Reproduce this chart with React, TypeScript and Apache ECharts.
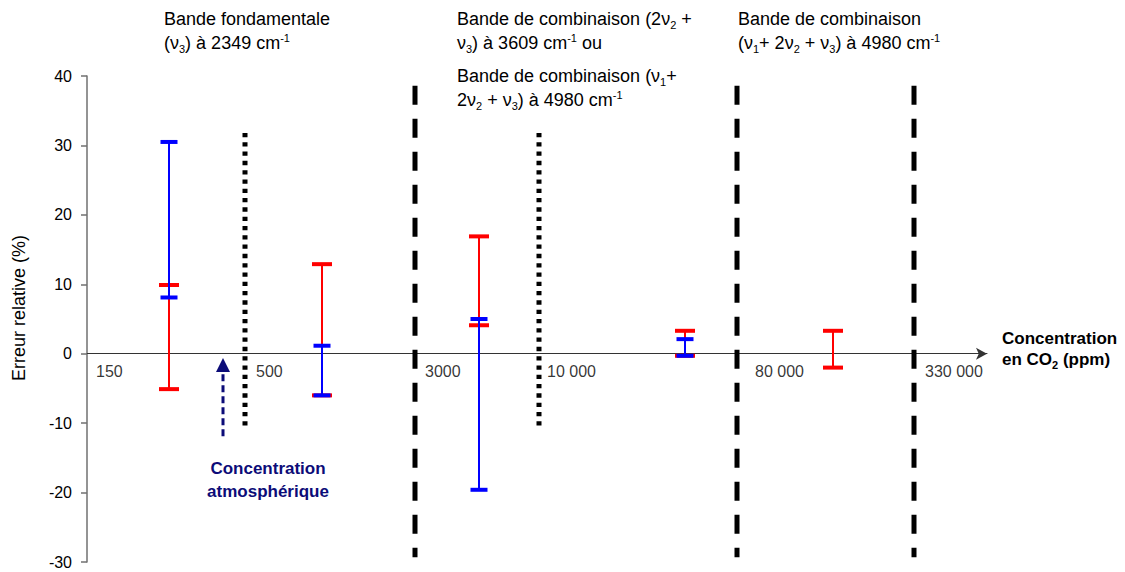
import React, { useEffect, useRef } from "react";
import * as echarts from "echarts";

const F = "'Liberation Sans', Arial, Helvetica, sans-serif";

// Concentration groups (x positions in arbitrary layout units along the axis)
const groupX = [8.2, 23.5, 39.2, 59.8, 74.6];
// Red error ranges (%)
const redLow = [-5.1, -6.0, 4.1, -0.3, -2.0];
const redHigh = [9.9, 12.9, 16.9, 3.3, 3.3];
// Blue error ranges (%) (no blue range for last group)
const blueLow = [8.1, -6.0, -19.6, -0.3];
const blueHigh = [30.5, 1.15, 5.0, 2.1];

// Separators
const dashedX = [32.8, 65.0, 82.7];
const dashedRange = [38.6, -29.3];
const dottedX = [15.8, 45.2];
const dottedRange = [31.8, -11.0];

// Atmospheric concentration arrow
const arrowX = 13.6;
const arrowRange = [-11.9, -0.6];

// Concentration labels along the axis
const concLabels = ["150", "500", "3000", "10 000", "80 000", "330 000"];
const concLabelX = [0.9, 16.9, 33.8, 46.0, 66.8, 83.8];
const concLabelY = -2.5;

// Y axis
const yMin = -30;
const yMax = 40;
const yStep = 10;

const rich: any = {
  n: { fontSize: 18, lineHeight: 22, fontFamily: F, fill: "#000", color: "#000" },
  s: { fontSize: 11, lineHeight: 11, fontFamily: F, fill: "#000", color: "#000", verticalAlign: "bottom" },
  p: { fontSize: 11, lineHeight: 11, fontFamily: F, fill: "#000", color: "#000", verticalAlign: "top" },
  b: { fontSize: 17, lineHeight: 22, fontFamily: F, fontWeight: "bold", fill: "#000", color: "#000" },
  bs: { fontSize: 11, lineHeight: 11, fontFamily: F, fontWeight: "bold", fill: "#000", color: "#000", verticalAlign: "bottom" },
};

function txt(x: number, y: number, text: string) {
  return {
    type: "text",
    x,
    y,
    silent: true,
    style: { text, rich, align: "left", verticalAlign: "middle", textAlign: "left", textVerticalAlign: "middle" },
  };
}

function errorBar(color: string, capW: number) {
  return (params: any, api: any) => {
    const x = api.value(0);
    const lo = api.value(1);
    const hi = api.value(2);
    const pt = api.coord([x, hi]);
    const pb = api.coord([x, lo]);
    return {
      type: "group",
      children: [
        { type: "line", shape: { x1: pt[0], y1: pt[1], x2: pb[0], y2: pb[1] }, style: { stroke: color, lineWidth: 2 } },
        { type: "rect", shape: { x: pt[0] - capW / 2, y: pt[1] - 2, width: capW, height: 4 }, style: { fill: color } },
        { type: "rect", shape: { x: pb[0] - capW / 2, y: pb[1] - 2, width: capW, height: 4 }, style: { fill: color } },
      ],
    };
  };
}

function vline(width: number, dash: number[]) {
  return (params: any, api: any) => {
    const x = api.value(0);
    const p1 = api.coord([x, api.value(1)]);
    const p2 = api.coord([x, api.value(2)]);
    return {
      type: "line",
      shape: { x1: p1[0], y1: p1[1], x2: p2[0], y2: p2[1] },
      style: { stroke: "#000", lineWidth: width, lineDash: dash, lineCap: "butt" },
    };
  };
}

export default function App() {
  const ref = useRef<HTMLDivElement>(null);
  useEffect(() => {
    if (!ref.current) return;
    const chart = echarts.init(ref.current, undefined, { renderer: "svg" });
    const option: any = {
      animation: false,
      backgroundColor: "#fff",
      grid: { left: 87, right: 138, top: 76, bottom: 10 },
      xAxis: {
        type: "value",
        min: 0,
        max: 90,
        axisLine: {
          show: true,
          onZero: true,
          symbol: ["none", "arrow"],
          symbolSize: [9, 11],
          lineStyle: { color: "#333", width: 1 },
        },
        axisTick: { show: false },
        axisLabel: { show: false },
        splitLine: { show: false },
      },
      yAxis: {
        type: "value",
        min: yMin,
        max: yMax,
        interval: yStep,
        axisLine: { show: true, onZero: false, lineStyle: { color: "#707070", width: 1.5 } },
        axisTick: { show: true, length: 6, lineStyle: { color: "#707070", width: 1.5 } },
        axisLabel: { fontSize: 16, color: "#000", fontFamily: F, margin: 15 },
        splitLine: { show: false },
      },
      series: [
        {
          type: "custom",
          name: "dashed",
          silent: true,
          renderItem: vline(5, [19, 14]),
          data: dashedX.map((x) => [x, dashedRange[0], dashedRange[1]]),
          z: 2,
        },
        {
          type: "custom",
          name: "dotted",
          silent: true,
          renderItem: vline(5, [4.3, 5]),
          data: dottedX.map((x) => [x, dottedRange[0], dottedRange[1]]),
          z: 2,
        },
        {
          type: "custom",
          name: "arrow",
          silent: true,
          renderItem: (params: any, api: any) => {
            const x = api.value(0);
            const pb = api.coord([x, api.value(1)]);
            const pt = api.coord([x, api.value(2)]);
            const headLen = 14;
            const halfW = 7;
            return {
              type: "group",
              children: [
                {
                  type: "line",
                  shape: { x1: pb[0], y1: pb[1], x2: pt[0], y2: pt[1] + headLen },
                  style: { stroke: "#0c0c78", lineWidth: 3, lineDash: [7, 4] },
                },
                {
                  type: "polygon",
                  shape: { points: [[pt[0], pt[1]], [pt[0] - halfW, pt[1] + headLen], [pt[0] + halfW, pt[1] + headLen]] },
                  style: { fill: "#0c0c78" },
                },
              ],
            };
          },
          data: [[arrowX, arrowRange[0], arrowRange[1]]],
          z: 2,
        },
        {
          type: "custom",
          name: "Rouge",
          silent: true,
          renderItem: errorBar("#ff0000", 20),
          data: groupX.map((x, i) => [x, redLow[i], redHigh[i]]),
          z: 3,
        },
        {
          type: "custom",
          name: "Bleu",
          silent: true,
          renderItem: errorBar("#0000ff", 17),
          data: blueLow.map((lo, i) => [groupX[i], lo, blueHigh[i]]),
          z: 4,
        },
        {
          type: "scatter",
          name: "labels",
          silent: true,
          symbolSize: 0,
          data: concLabels.map((n, i) => ({ name: n, value: [concLabelX[i], concLabelY] })),
          label: {
            show: true,
            position: "right",
            distance: 0,
            formatter: "{b}",
            fontSize: 16,
            fontFamily: F,
            color: "#000",
          },
          z: 5,
        },
      ],
      graphic: [
        {
          type: "text",
          x: 19,
          y: 308,
          rotation: Math.PI / 2,
          silent: true,
          style: {
            text: "Erreur relative (%)",
            fontSize: 18,
            fontFamily: F,
            fill: "#000",
            align: "center",
            verticalAlign: "middle",
            textAlign: "center",
            textVerticalAlign: "middle",
          },
        },
        txt(164, 19, "{n|Bande fondamentale}"),
        txt(164, 43, "{n|(ν}{s|3}{n|) à 2349 cm}{p|-1}"),
        txt(457, 19, "{n|Bande de combinaison (2ν}{s|2}{n| +}"),
        txt(457, 43, "{n|ν}{s|3}{n|) à 3609 cm}{p|-1}{n| ou}"),
        txt(457, 76, "{n|Bande de combinaison (ν}{s|1}{n|+}"),
        txt(457, 100, "{n|2ν}{s|2}{n| + ν}{s|3}{n|) à 4980 cm}{p|-1}"),
        txt(738, 19, "{n|Bande de combinaison}"),
        txt(738, 43, "{n|(ν}{s|1}{n|+ 2ν}{s|2}{n| + ν}{s|3}{n|) à 4980 cm}{p|-1}"),
        txt(1002, 338, "{b|Concentration}"),
        txt(1002, 359, "{b|en CO}{bs|2}{b| (ppm)}"),
        {
          type: "text",
          x: 268,
          y: 468,
          silent: true,
          style: {
            text: "Concentration\natmosphérique",
            fontSize: 17,
            fontWeight: "bold",
            fontFamily: F,
            fill: "#0c0c78",
            lineHeight: 23,
            align: "center",
            verticalAlign: "top",
            textAlign: "center",
            textVerticalAlign: "top",
          },
        },
      ],
    };
    // place the atmospheric label block so first line centre sits near y=468
    option.graphic[option.graphic.length - 1].y = 457;
    chart.setOption(option);
    return () => chart.dispose();
  }, []);
  return (
    <div
      ref={ref}
      style={{ position: "fixed", left: 0, top: 0, width: 1125, height: 572, background: "#fff" }}
    />
  );
}
